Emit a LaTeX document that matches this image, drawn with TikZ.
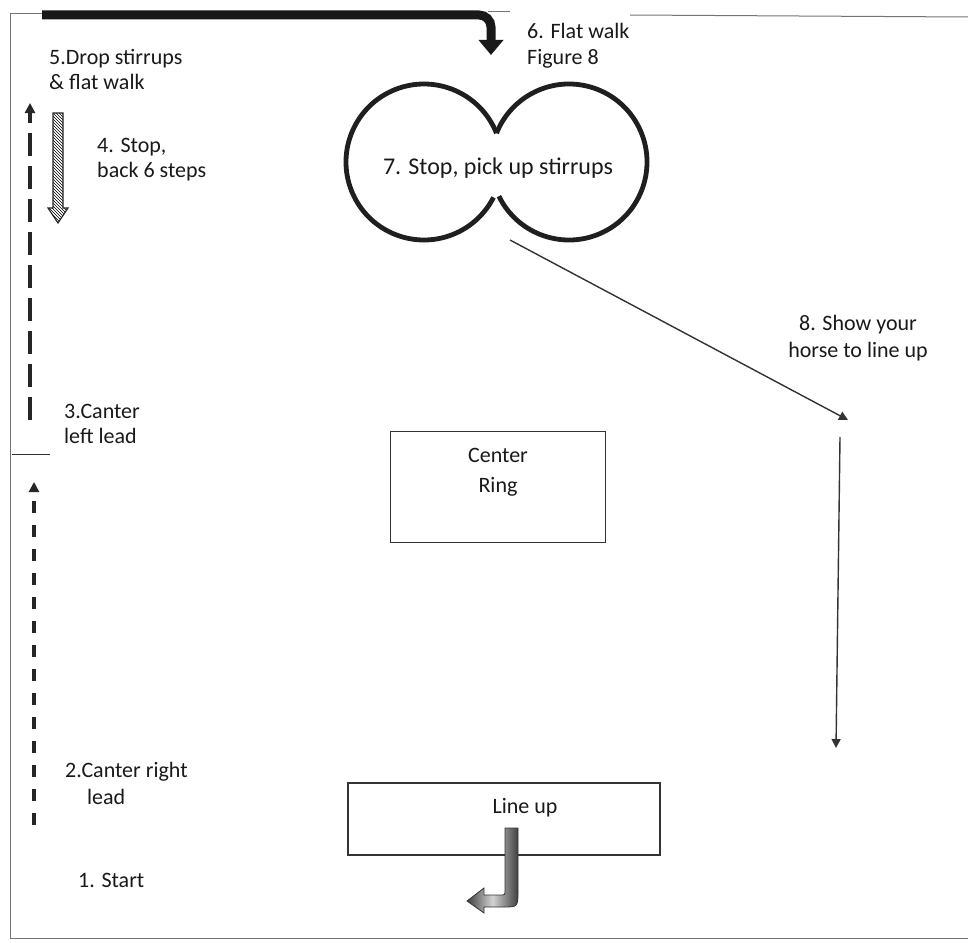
\documentclass[tikz,border=0pt]{standalone}
\usepackage{fontspec}
\setmainfont{Carlito}
\usetikzlibrary{arrows.meta, patterns, positioning}

\begin{document}
\begin{tikzpicture}[x=1pt, y=-1pt,
            lbl/.style={font=\fontsize{22}{25}\selectfont, align=left, inner sep=0pt, anchor=base west, text=black!90},
            ringbox/.style={draw=black!80, line width=1.3pt},
            edge/.style={draw=black!55, line width=1pt},
            track/.style={line width=4.8pt, black!88},
            dashtrack/.style={line width=3.5pt, black!85, -{Triangle[width=10pt,length=10pt]}},
            thinarr/.style={line width=1.4pt, black!80, -{Triangle[width=9pt,length=9pt]}}
        ]
            \useasboundingbox (0,0) rectangle (968,942);
            % arena border
            \draw[edge] (42,14) -- (10,14) -- (10,938) -- (968,938);
            \draw[edge] (630,15) -- (968,17);
            \draw[edge] (488,12) -- (510,12);

            % rings
            \node[ringbox, minimum width=215pt, minimum height=111pt] (ring) at (498,487) {};
            \node[lbl, align=center, anchor=north, below=17pt of ring.north] {Center\\[5pt]Ring};
            \node[ringbox, minimum width=312pt, minimum height=72pt] (lineup) at (504,819) {};
            \node[lbl, anchor=north, below=16pt of lineup.north, xshift=21pt] {Line up};

            % figure 8
            \begin{scope}[shift={(424,162)}, y=1pt]
                \draw[track] (21.7:78) arc[start angle=21.7, end angle=333, radius=78];
            \end{scope}
            \begin{scope}[shift={(569,162)}, y=1pt]
                \draw[track] (206:78) arc[start angle=206, end angle=518.3, radius=78];
            \end{scope}

            % route points
            \coordinate (topstart) at (42,15);
            \coordinate (topend) at (491,55);
            \coordinate (leftA) at (34,825);
            \coordinate (leftB) at (34,482);
            \coordinate (leftC) at (30,420);
            \coordinate (leftD) at (30,103);
            \coordinate (fig8out) at (510,240);
            \coordinate (turn) at (848,420);
            \coordinate (downA) at (840,437);
            \coordinate (downB) at (836,748);

            \draw[line width=9pt, black!90, rounded corners=12pt, -{Triangle[width=24pt,length=15pt]}] (topstart) -| (topend);
            \draw[dashtrack, dash pattern=on 12pt off 12pt] (leftA) -- (leftB);
            \draw[dashtrack, dash pattern=on 23pt off 10pt] (leftC) -- (leftD);
            \draw[black!80, line width=1pt] (12,454) -- (50,454);
            \draw[thinarr] (fig8out) -- (turn);
            \draw[thinarr] (downA) -- (downB);

            % back up arrow
            \draw[black!85, line width=1.2pt, pattern=north west lines] (53,113) -- (63,113) -- (63,208) -- (68,208) -- (58,223) -- (48,208) -- (53,208) -- cycle;

            % line up turn
            \shade[draw=black!80, line width=0.8pt, left color=black!75, right color=black!75, middle color=gray!35]
                (505,828) -- (518,828) -- (518,890) .. controls (518,907) .. (503,907) -- (484,907) -- (484,913) -- (467,901) -- (484,888) -- (484,895) -- (500,895) .. controls (505,895) .. (505,890) -- cycle;

            % labels (base = last line)
            \node[lbl] (s5) at (49,89) {5.Drop stirrups\\\& flat walk};
            \node[lbl] (s4) at (97,177) {4. Stop,\\back 6 steps};
            \node[lbl] (s6) at (527,64) {6. Flat walk\\Figure 8};
            \node[lbl, font=\fontsize{24}{28}\selectfont, anchor=base] (s7) at (498,174) {7. Stop, pick up stirrups};
            \node[lbl, align=center, anchor=base] (s8) at (858,357) {8. Show your\\[2pt]horse to line up};
            \node[lbl] (s3) at (64,443) {3.Canter\\left lead};
            \node[lbl] (s2) at (65,804) {2.Canter right\\[2pt]\hspace*{22pt}lead};
            \node[lbl] (s1) at (78,887) {1. Start};
        \end{tikzpicture}
\end{document}
